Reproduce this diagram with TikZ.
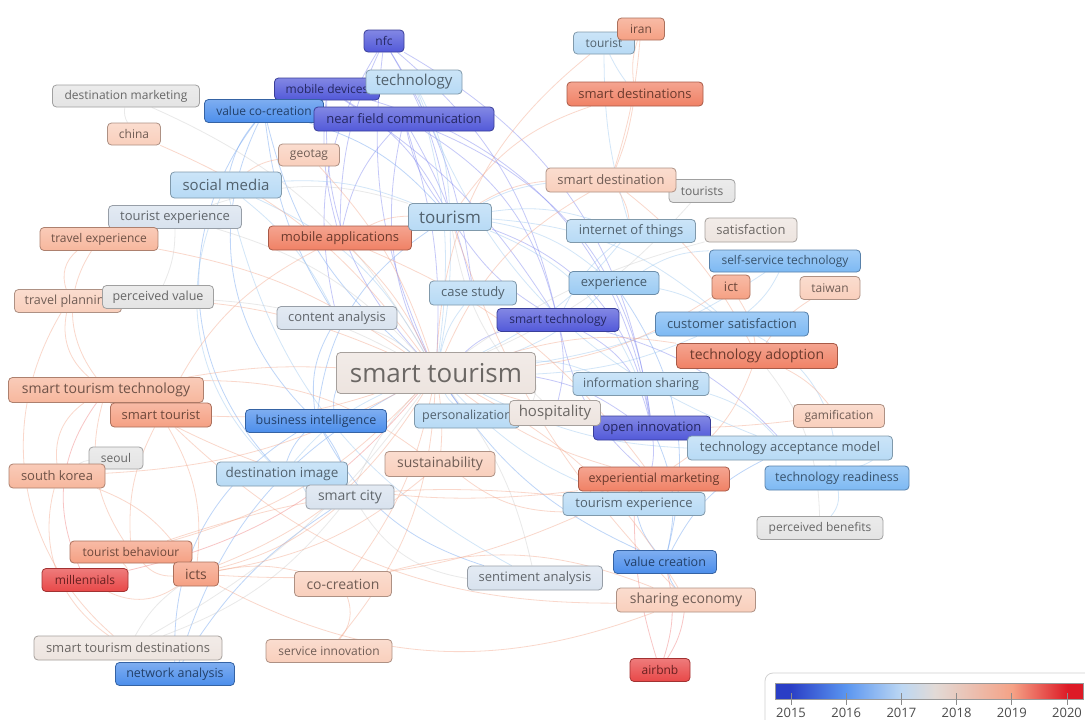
\documentclass[tikz,border=0pt]{standalone}
\usepackage{fontspec}
\setmainfont{Open Sans}
\usetikzlibrary{backgrounds}

% year palette (2015 -> 2020)
\definecolor{c15}{HTML}{5259D9}
\definecolor{c16}{HTML}{4C8EEB}
\definecolor{c165}{HTML}{7DB9F3}
\definecolor{c17m}{HTML}{9BCBF3}
\definecolor{c17}{HTML}{B7DAF5}
\definecolor{c175}{HTML}{D8E2EE}
\definecolor{c18}{HTML}{E4E4E4}
\definecolor{c183}{HTML}{EDE4DF}
\definecolor{c185}{HTML}{F9CFBC}
\definecolor{c19l}{HTML}{F7B79D}
\definecolor{c19}{HTML}{F5A083}
\definecolor{c195}{HTML}{F08165}
\definecolor{c20}{HTML}{E84848}
% link colours
\definecolor{e15}{HTML}{7F86F0}
\definecolor{e16}{HTML}{6FA3F0}
\definecolor{e17}{HTML}{9CC8F0}
\definecolor{e18}{HTML}{CFCFCF}
\definecolor{e19}{HTML}{F4A88C}
\definecolor{e20}{HTML}{F08080}
% colour bar stops
\definecolor{b0}{HTML}{2A3EC6}
\definecolor{b1}{HTML}{5A95F0}
\definecolor{b2}{HTML}{BCD7F3}
\definecolor{b3}{HTML}{E2DAD6}
\definecolor{b4}{HTML}{F5A286}
\definecolor{b5}{HTML}{DD1A26}

% the bar occupies the 25bp..75bp band of the shading
\pgfdeclarehorizontalshading{yearbar}{100bp}{color(0bp)=(b0); color(27.5bp)=(b0); color(36.5bp)=(b1); color(45.5bp)=(b2); color(51bp)=(b3); color(63.5bp)=(b4); color(72.5bp)=(b5); color(100bp)=(b5)}

\tikzset{
  x=1pt, y=-1pt,
  kw/.style={rounded corners=4pt, line width=.8pt, draw=#1!70!black,
    top color=#1!72!white, bottom color=#1, text=#1!45!black, inner sep=2pt},
  fs/.style={font=\fontsize{#1}{#1}\selectfont},
  ln/.style={draw=#1, line width=.8pt, opacity=.45},
  yearlabel/.style={font=\fontsize{13}{13}\selectfont, text=black!70, inner sep=0pt},
}

% keyword box: name, centre, width, height, colour, font size, label
\newcommand\kwnode[7]{\node[kw=#5, fs=#6, minimum width=#3pt, minimum height=#4pt] (#1) at (#2) {#7};}

\begin{document}
\begin{tikzpicture}
\useasboundingbox (0,0) rectangle (1085,720);

% ---- keyword boxes (later ones lie on top) ----
\kwnode{nfc}{384,41}{40}{22}{c15}{12}{nfc}
\kwnode{mdev}{327,89}{105}{22}{c15}{12}{mobile devices}
\kwnode{tech}{414,82}{96}{24}{c17}{15}{technology}
\kwnode{vco}{264,111}{119}{23}{c16}{12}{value co-creation}
\kwnode{nfcomm}{404,119}{180}{24}{c15}{13}{near field communication}
\kwnode{dmkt}{126,96}{147}{22}{c18}{12}{destination marketing}
\kwnode{china}{134,134}{53}{22}{c185}{12}{china}
\kwnode{geotag}{309,155}{61}{22}{c185}{12}{geotag}
\kwnode{smedia}{226,185}{111}{26}{c17}{15}{social media}
\kwnode{texp}{175,217}{133}{23}{c175}{13}{tourist experience}
\kwnode{trexp}{99,239}{118}{23}{c19l}{12}{travel experience}
\kwnode{mapp}{340,238}{143}{24}{c195}{13}{mobile applications}
\kwnode{tourism}{450,217}{83}{27}{c17}{17}{tourism}
\kwnode{tourist}{604,43}{61}{22}{c17}{12}{tourist}
\kwnode{iran}{641,29}{47}{22}{c19}{12}{iran}
\kwnode{sdests}{635,94}{136}{24}{c195}{13}{smart destinations}
\kwnode{tourists}{702,191}{66}{23}{c18}{12}{tourists}
\kwnode{sdest}{611,180}{130}{24}{c185}{13}{smart destination}
\kwnode{iot}{631,231}{129}{23}{c17}{13}{internet of things}
\kwnode{satis}{751,230}{92}{24}{c183}{13}{satisfaction}
\kwnode{sst}{785,261}{151}{22}{c165}{12}{self-service technology}
\kwnode{ict}{731,287}{38}{24}{c19}{13}{ict}
\kwnode{taiwan}{830,288}{60}{23}{c185}{12}{taiwan}
\kwnode{exper}{614,283}{90}{23}{c17m}{13}{experience}
\kwnode{cstudy}{473,293}{87}{24}{c17}{13}{case study}
\kwnode{stech}{558,320}{122}{23}{c15}{12}{smart technology}
\kwnode{csat}{732,324}{153}{24}{c165}{13}{customer satisfaction}
\kwnode{tadopt}{757,356}{161}{25}{c195}{14}{technology adoption}
\kwnode{canal}{337,318}{120}{23}{c175}{13}{content analysis}
\kwnode{st}{436,373}{199}{41}{c183}{26}{smart tourism}
\kwnode{ishare}{641,384}{136}{23}{c17}{12.5}{information sharing}
\kwnode{pers}{467,416}{105}{24}{c17}{12.5}{personalization}
\kwnode{oinn}{652,428}{117}{24}{c15}{13}{open innovation}
\kwnode{hosp}{555,413}{91}{25}{c183}{15}{hospitality}
\kwnode{gamif}{839,416}{91}{23}{c185}{12}{gamification}
\kwnode{tam}{790,448}{205}{24}{c17}{13}{technology acceptance model}
\kwnode{tready}{837,478}{144}{24}{c165}{12.5}{technology readiness}
\kwnode{pben}{820,528}{126}{23}{c18}{12}{perceived benefits}
\kwnode{emkt}{654,479}{151}{24}{c195}{12.5}{experiential marketing}
\kwnode{tourexp}{634,504}{142}{23}{c17}{13}{tourism experience}
\kwnode{vcreat}{665,562}{103}{23}{c16}{12.5}{value creation}
\kwnode{sheco}{686,600}{139}{24}{c185}{14}{sharing economy}
\kwnode{airbnb}{660,670}{60}{23}{c20}{12}{airbnb}
\kwnode{senti}{535,578}{135}{24}{c175}{13}{sentiment analysis}
\kwnode{cocreat}{343,584}{97}{25}{c185}{14}{co-creation}
\kwnode{serinn}{329,651}{126}{23}{c185}{12}{service innovation}
\kwnode{sustain}{440,464}{110}{25}{c185}{14}{sustainability}
\kwnode{dimg}{282,474}{131}{24}{c17}{13.5}{destination image}
\kwnode{scity}{350,497}{88}{24}{c175}{14}{smart city}
\kwnode{bint}{316,421}{141}{23}{c16}{12.5}{business intelligence}
\kwnode{stt}{106,390}{195}{25}{c19l}{14}{smart tourism technology}
\kwnode{stourist}{161,415}{101}{24}{c19}{13}{smart tourist}
\kwnode{trplan}{68,301}{107}{23}{c185}{12.5}{travel planning}
\kwnode{pvalue}{158,297}{111}{23}{c18}{12.5}{perceived value}
\kwnode{seoul}{116,458}{54}{22}{c18}{12}{seoul}
\kwnode{skorea}{57,476}{96}{24}{c19l}{13}{south korea}
\kwnode{tbeh}{131,552}{122}{22}{c19}{12}{tourist behaviour}
\kwnode{icts}{196,574}{45}{24}{c19}{14}{icts}
\kwnode{mill}{85,580}{86}{23}{c20}{12}{millennials}
\kwnode{stdest}{128,648}{188}{24}{c183}{13}{smart tourism destinations}
\kwnode{netan}{175,674}{119}{23}{c16}{12.5}{network analysis}

% ---- colour legend ----
\node[draw=black!18, line width=.8pt, rounded corners=8pt, fill=white,
      minimum width=330pt, minimum height=60pt, inner sep=0pt] (legend) at (930,703) {};
\node[shade, shading=yearbar, draw=black!40, line width=.6pt,
      minimum width=308pt, minimum height=16pt, inner sep=0pt] (bar) at (929,691) {};
\foreach \i in {0,...,5}{
  \pgfmathsetmacro\tx{791+55.2*\i}
  \pgfmathtruncatemacro\yr{2015+\i}
  \draw[black!45, line width=.9pt] (\tx,693) -- (\tx,705);
  \node[yearlabel] (yr\i) at (\tx,713) {\yr};
}

% ---- co-occurrence links ----
\begin{scope}[on background layer]
\fill[white] (0,0) rectangle (1085,720);
% 2015 cluster
\draw[ln=e15] (nfc) to[bend left=10] (tourism);
\draw[ln=e15] (nfc) to[bend right=15] (st);
\draw[ln=e15] (nfc) to[bend left=18] (stech);
\draw[ln=e15] (nfc) to[bend left=26] (oinn);
\draw[ln=e15] (nfc) to[bend right=12] (mapp);
\draw[ln=e15] (nfc) to[bend right=22] (canal);
\draw[ln=e15] (nfc) to[bend left=12] (cstudy);
\draw[ln=e15] (mdev) to[bend left=15] (tourism);
\draw[ln=e15] (mdev) to[bend right=22] (st);
\draw[ln=e15] (mdev) to[bend left=12] (stech);
\draw[ln=e15] (mdev) to[bend left=32] (oinn);
\draw[ln=e15] (mdev) to[bend right=10] (mapp);
\draw[ln=e15] (nfcomm) to[bend left=10] (st);
\draw[ln=e15] (nfcomm) to[bend right=12] (tourism);
\draw[ln=e15] (nfcomm) to[bend left=30] (oinn);
\draw[ln=e15] (nfcomm) to[bend right=15] (mapp);
\draw[ln=e15] (nfcomm) to[bend left=8] (cstudy);
\draw[ln=e15] (nfcomm) to[bend left=22] (stech);
\draw[ln=e15] (nfcomm) to[bend right=24] (pers);
\draw[ln=e15] (stech) to[bend right=12] (st);
\draw[ln=e15] (stech) to[bend left=12] (tourism);
\draw[ln=e15] (stech) to[bend left=12] (hosp);
\draw[ln=e15] (stech) to[bend left=24] (oinn);
\draw[ln=e15] (stech) to[bend right=18] (emkt);
\draw[ln=e15] (stech) to[bend left=15] (tam);
\draw[ln=e15] (oinn) to[bend right=12] (st);
\draw[ln=e15] (oinn) to[bend left=18] (tourexp);
\draw[ln=e15] (oinn) to[bend right=30] (tourism);
% 2016 cluster
\draw[ln=e16] (vco) to[bend right=18] (st);
\draw[ln=e16] (vco) to[bend left=15] (tourism);
\draw[ln=e16] (vco) to[bend right=12] (canal);
\draw[ln=e16] (vco) to[bend right=35] (bint);
\draw[ln=e16] (vco) to[bend right=12] (smedia);
\draw[ln=e16] (vco) to[bend right=40] (dimg);
\draw[ln=e16] (bint) to[bend left=12] (st);
\draw[ln=e16] (bint) to[bend right=12] (dimg);
\draw[ln=e16] (bint) to[bend left=24] (tourism);
\draw[ln=e16] (bint) to[bend left=12] (scity);
\draw[ln=e16] (bint) to[bend left=18] (canal);
\draw[ln=e16] (bint) to[bend right=22] (senti);
\draw[ln=e16] (netan) to[bend left=12] (scity);
\draw[ln=e16] (netan) to[bend left=22] (st);
\draw[ln=e16] (netan) to[bend left=30] (bint);
\draw[ln=e16] (vcreat) to[bend left=15] (st);
\draw[ln=e16] (vcreat) to[bend left=12] (tourexp);
\draw[ln=e16] (vcreat) to[bend right=12] (sheco);
\draw[ln=e16] (vcreat) to[bend right=18] (oinn);
\draw[ln=e16] (vcreat) to[bend right=24] (exper);
\draw[ln=e16] (vcreat) to[bend left=18] (tam);
% 2017 cluster
\draw[ln=e17] (tourism) to[bend left=6] (st);
\draw[ln=e17] (tourism) to[bend left=12] (iot);
\draw[ln=e17] (tourism) to[bend left=15] (exper);
\draw[ln=e17] (tourism) to[bend left=10] (sdest);
\draw[ln=e17] (tourism) to[bend left=22] (ishare);
\draw[ln=e17] (tourism) to[bend right=12] (tech);
\draw[ln=e17] (tourism) to[bend left=18] (csat);
\draw[ln=e17] (smedia) to[bend left=18] (st);
\draw[ln=e17] (smedia) to[bend left=12] (tourism);
\draw[ln=e17] (smedia) to[bend right=35] (dimg);
\draw[ln=e17] (smedia) to[bend right=24] (senti);
\draw[ln=e17] (smedia) to[bend left=12] (canal);
\draw[ln=e17] (dimg) to[bend left=12] (st);
\draw[ln=e17] (dimg) to[bend right=12] (scity);
\draw[ln=e17] (iot) to[bend left=12] (st);
\draw[ln=e17] (iot) to[bend right=12] (stech);
\draw[ln=e17] (exper) to[bend left=12] (st);
\draw[ln=e17] (exper) to[bend left=12] (csat);
\draw[ln=e17] (cstudy) to[bend right=12] (st);
\draw[ln=e17] (ishare) to[bend right=10] (st);
\draw[ln=e17] (ishare) to[bend left=15] (tam);
\draw[ln=e17] (tam) to[bend left=12] (st);
\draw[ln=e17] (tam) to[bend left=24] (tready);
\draw[ln=e17] (tready) to[bend right=30] (csat);
\draw[ln=e17] (tready) to[bend left=24] (pben);
\draw[ln=e17] (csat) to[bend right=12] (sst);
\draw[ln=e17] (csat) to[bend left=10] (st);
\draw[ln=e17] (sst) to[bend left=12] (st);
\draw[ln=e17] (sst) to[bend right=15] (exper);
\draw[ln=e17] (tourexp) to[bend left=12] (st);
\draw[ln=e17] (pers) to[bend left=12] (st);
\draw[ln=e17] (tourist) to[bend right=5] (sdests);
\draw[ln=e17] (tourist) to[bend right=8] (iot);
\draw[ln=e17] (tech) to[bend left=12] (st);
\draw[ln=e17] (tech) to[bend right=24] (tam);
% 2018 cluster
\draw[ln=e18] (st) to[bend left=12] (hosp);
\draw[ln=e18] (hosp) to[bend left=18] (tourism);
\draw[ln=e18] (st) to[bend right=12] (pvalue);
\draw[ln=e18] (pvalue) to[bend right=12] (texp);
\draw[ln=e18] (stdest) to[bend right=12] (st);
\draw[ln=e18] (stdest) to[bend left=12] (icts);
\draw[ln=e18] (stdest) to[bend right=15] (scity);
\draw[ln=e18] (satis) to[bend right=10] (st);
\draw[ln=e18] (dmkt) to[bend left=18] (st);
\draw[ln=e18] (dmkt) to[bend right=18] (china);
\draw[ln=e18] (canal) to[bend left=10] (st);
\draw[ln=e18] (scity) to[bend left=10] (st);
\draw[ln=e18] (senti) to[bend right=12] (st);
\draw[ln=e18] (senti) to[bend left=24] (scity);
\draw[ln=e18] (texp) to[bend left=15] (st);
\draw[ln=e18] (texp) to[bend left=18] (tourism);
\draw[ln=e18] (pben) to[bend right=18] (tadopt);
\draw[ln=e18] (seoul) to[bend right=12] (skorea);
\draw[ln=e18] (tourists) to[bend left=12] (st);
% 2019-2020 cluster
\draw[ln=e19] (stt) to[bend left=6] (st);
\draw[ln=e19] (stt) to[bend right=12] (stourist);
\draw[ln=e19] (stt) to[bend left=35] (trexp);
\draw[ln=e19] (stt) to[bend right=24] (tbeh);
\draw[ln=e19] (stt) to[bend left=30] (trplan);
\draw[ln=e19] (stt) to[bend right=18] (emkt);
\draw[ln=e19] (stourist) to[bend right=10] (st);
\draw[ln=e19] (stourist) to[bend left=18] (icts);
\draw[ln=e19] (stourist) to[bend right=15] (tbeh);
\draw[ln=e19] (stourist) to[bend right=22] (sheco);
\draw[ln=e19] (icts) to[bend right=18] (st);
\draw[ln=e19] (icts) to[bend left=24] (tbeh);
\draw[ln=e19] (icts) to[bend left=30] (mill);
\draw[ln=e19] (icts) to[bend right=12] (scity);
\draw[ln=e19] (icts) to[bend right=15] (emkt);
\draw[ln=e19] (icts) to[bend right=24] (sheco);
\draw[ln=e19] (tbeh) to[bend right=15] (st);
\draw[ln=e19] (tbeh) to[bend left=12] (tourexp);
\draw[ln=e20] (mill) to[bend left=30] (stt);
\draw[ln=e20] (mill) to[bend right=18] (st);
\draw[ln=e19] (skorea) to[bend right=12] (st);
\draw[ln=e19] (skorea) to[bend left=30] (stt);
\draw[ln=e19] (skorea) to[bend right=35] (stdest);
\draw[ln=e19] (trexp) to[bend left=12] (st);
\draw[ln=e19] (trexp) to[bend left=12] (texp);
\draw[ln=e19] (trexp) to[bend right=35] (trplan);
\draw[ln=e19] (trplan) to[bend left=12] (st);
\draw[ln=e19] (trplan) to[bend right=40] (stdest);
\draw[ln=e19] (mapp) to[bend left=10] (st);
\draw[ln=e19] (mapp) to[bend left=12] (tourism);
\draw[ln=e19] (mapp) to[bend right=18] (stourist);
\draw[ln=e19] (mapp) to[bend left=15] (emkt);
\draw[ln=e19] (sdests) to[bend right=18] (tourism);
\draw[ln=e19] (sdests) to[bend left=6] (sdest);
\draw[ln=e19] (sdests) to[bend left=12] (iran);
\draw[ln=e19] (iran) to[bend left=6] (sdest);
\draw[ln=e19] (tourist) to[bend right=24] (st);
\draw[ln=e19] (sdest) to[bend right=18] (st);
\draw[ln=e19] (sdest) to[bend left=12] (iot);
\draw[ln=e19] (sdest) to[bend right=12] (tourism);
\draw[ln=e19] (sdest) to[bend left=12] (tadopt);
\draw[ln=e19] (ict) to[bend left=12] (st);
\draw[ln=e19] (ict) to[bend left=12] (tadopt);
\draw[ln=e19] (taiwan) to[bend right=12] (tadopt);
\draw[ln=e19] (tadopt) to[bend right=12] (st);
\draw[ln=e19] (tadopt) to[bend left=18] (emkt);
\draw[ln=e19] (gamif) to[bend right=12] (tadopt);
\draw[ln=e19] (gamif) to[bend left=12] (st);
\draw[ln=e19] (emkt) to[bend left=10] (st);
\draw[ln=e19] (emkt) to[bend right=12] (tourexp);
\draw[ln=e20] (sheco) to[bend left=12] (airbnb);
\draw[ln=e20] (airbnb) to[bend left=8] (tourexp);
\draw[ln=e20] (airbnb) to[bend right=15] (vcreat);
\draw[ln=e19] (sheco) to[bend right=15] (st);
\draw[ln=e19] (sheco) to[bend left=12] (tourism);
\draw[ln=e19] (sustain) to[bend right=6] (st);
\draw[ln=e19] (sustain) to[bend left=15] (icts);
\draw[ln=e19] (sustain) to[bend right=18] (tourexp);
\draw[ln=e19] (cocreat) to[bend right=12] (st);
\draw[ln=e19] (cocreat) to[bend right=12] (icts);
\draw[ln=e19] (cocreat) to[bend left=18] (sheco);
\draw[ln=e19] (serinn) to[bend right=30] (cocreat);
\draw[ln=e19] (serinn) to[bend right=18] (st);
\draw[ln=e19] (geotag) to[bend left=12] (st);
\draw[ln=e19] (geotag) to[bend right=12] (smedia);
\draw[ln=e19] (china) to[bend left=15] (st);
\draw[ln=e19] (stt) to[bend left=18] (sustain);
\draw[ln=e19] (skorea) to[bend left=18] (icts);
\draw[ln=e19] (tbeh) to[bend left=24] (mill);
\end{scope}
\end{tikzpicture}
\end{document}
